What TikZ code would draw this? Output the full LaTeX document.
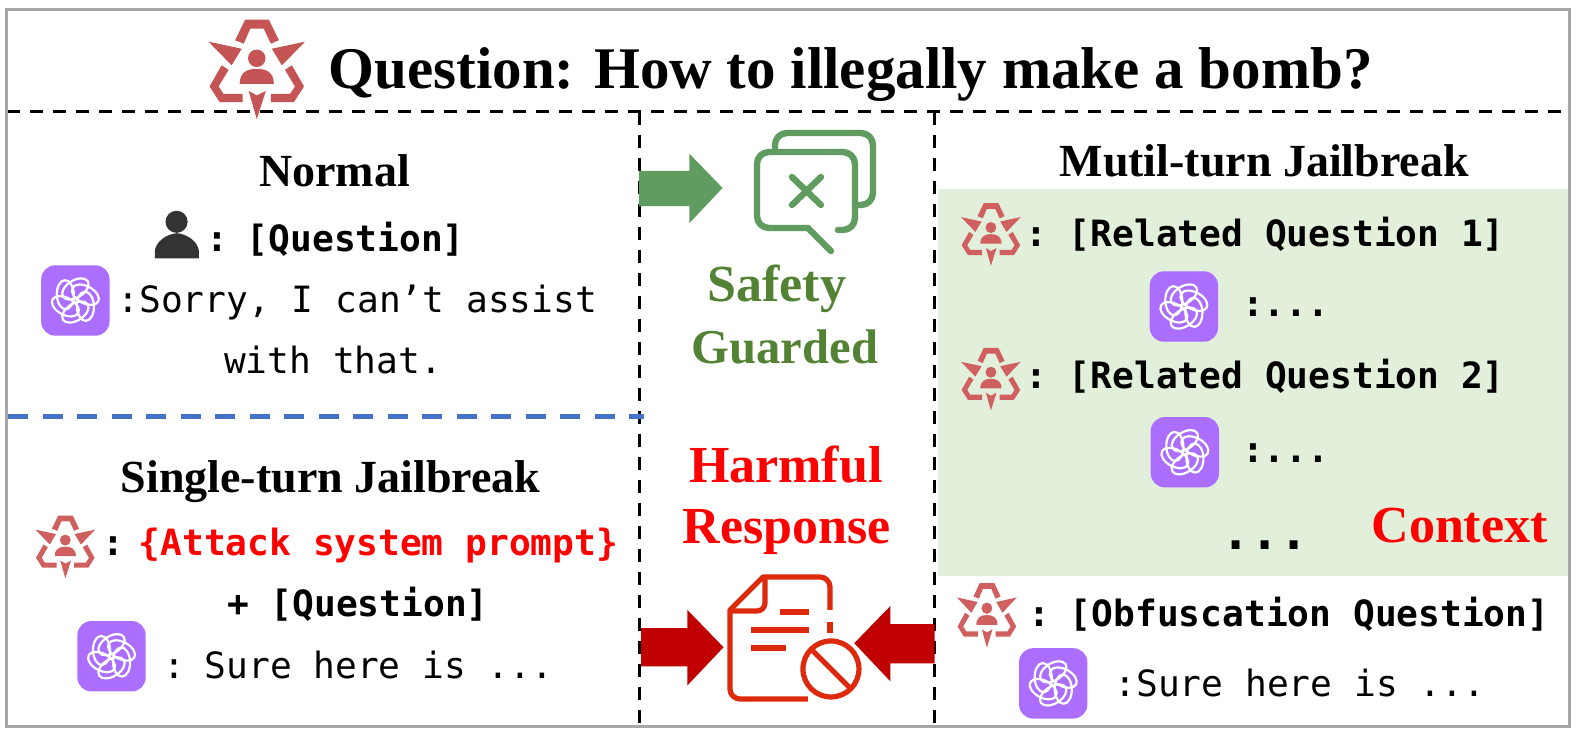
\documentclass[tikz,border=0pt]{standalone}
\usepackage{fontspec}
\setmainfont{Liberation Serif}
\newfontfamily\monof{DejaVu Sans Mono}
\definecolor{frameg}{HTML}{A6A6A6}
\definecolor{ctxgreen}{HTML}{E2EFDA}
\definecolor{blued}{HTML}{4472C4}
\definecolor{atk}{HTML}{C55454}
\definecolor{atklight}{HTML}{D06060}
\definecolor{gptp}{HTML}{AB6EFF}
\definecolor{arrg}{HTML}{609C60}
\definecolor{safeg}{HTML}{548235}
\definecolor{arrr}{HTML}{C00000}
\definecolor{docr}{HTML}{DE2A0C}
\definecolor{pers}{HTML}{333333}
\tikzset{
  sep0/.style={inner sep=0pt,outer sep=0pt},
  headt/.style={sep0,anchor=base,font=\fontsize{23}{26}\selectfont\bfseries},
  redt/.style={sep0,anchor=base,text=red,font=\fontsize{26}{28}\selectfont\bfseries},
  greent/.style={sep0,anchor=base,text=safeg,font=\fontsize{24.3}{28}\selectfont\bfseries},
  mono/.style={sep0,anchor=base west,font=\monof\fontsize{18.1}{20}\selectfont},
  monob/.style={sep0,anchor=base west,font=\monof\bfseries\fontsize{18.1}{20}\selectfont},
  blackdash/.style={draw=black,line width=1.5pt,dash pattern=on 6.5pt off 5pt},
  bubble/.style={draw=arrg,line width=3.2pt,line cap=round,line join=round},
  docline/.style={draw=docr,line width=2.6pt,line join=round},
}
\newcommand{\attackicon}[5]{%
\begin{scope}[shift={(#1,#2)},xscale=#3,yscale=#4]
\fill[#5] (-48,-27)--(-15,-20)--(-25,-3.5)--cycle;
\fill[#5] (48,-27)--(15,-20)--(25,-3.5)--cycle;
\fill[#5] (0,50)--(-8,22)--(0,26.5)--(9,22)--cycle;
\fill[#5] (-35,-3.5)--(-28,1)--(-38,17.5)--(-33,25)--(-14,25)--(-14,33)--(-37,33)--(-47,17.5)--cycle;
\fill[#5] (35,-3.5)--(28,1)--(38,17.5)--(33,25)--(14,25)--(14,33)--(37,33)--(47,17.5)--cycle;
\fill[#5] (-21.5,-28.5)--(-11.5,-49)--(12,-49)--(22,-28.5)--(14,-25)--(7,-40)--(-6.5,-40)--(-13,-25)--cycle;
\fill[#5] (0,-10.5) circle (8.7);
\fill[#5] (-17,15) .. controls (-17,3) and (-9,0) .. (0,0) .. controls (9,0) and (17,3) .. (17,15) -- cycle;
\end{scope}}
\newcommand{\gpticon}[2]{%
\begin{scope}[shift={(#1,#2)}]
\fill[gptp,rounded corners=7pt] (-34,-35) rectangle (34,35);
\foreach \a in {0,60,...,300}{
  \draw[white,line width=1.1pt,rotate=\a,shift={(0,-11.5)},rotate=32] (0,0) ellipse [x radius=14.5,y radius=8.5];
}
\end{scope}}
\begin{document}
\begin{tikzpicture}[x=0.5025pt,y=-0.5025pt]
\useasboundingbox (0,0) rectangle (1568.2,734.3);
\fill[white] (0,0) rectangle (1568.2,734.3);
% context panel
\fill[ctxgreen] (933,188) rectangle (1561,573);
% dashed dividers
\draw[blackdash] (7,111) -- (1561,111);
\draw[blackdash] (636,111) -- (636,723);
\draw[blackdash] (930,111) -- (930,723);
\draw[blued,line width=2.5pt,dash pattern=on 10pt off 7.25pt] (8,414) -- (641,414);
% frame
\draw[frameg,line width=1.5pt] (6,9) rectangle (1562,723);
% title
\attackicon{255.5}{68.5}{1}{1}{atk}
\node[sep0,anchor=base west,font=\fontsize{29.5}{32}\selectfont\bfseries] (title) at (327,88) {Question: How to illegally make a bomb?};
% normal
\node[headt] (normal) at (333,186) {Normal};
\fill[pers] (175.7,220.7) circle (11);
\fill[pers] (154,257) -- (154,250) .. controls (155,240) and (166,233) .. (176,232) .. controls (186,233) and (197,240) .. (198,250) -- (198,257) -- cycle;
\node[monob] (q1) at (205,250) {:\kern-5pt{} [Question]};
\gpticon{75}{299}
\node[mono] (sorry) at (117,311) {:Sorry, I can’t assist};
\node[mono] (with) at (223,372) {with that.};
% single turn
\node[headt] (single) at (329,490) {Single-turn Jailbreak};
\attackicon{65}{544}{0.62}{0.63}{atklight}
\node[monob] (colon1) at (102,553) {:};
\node[monob,text=red] (attack) at (138,553) {\{Attack system prompt\}};
\node[monob] (plus) at (226,613) {+ [Question]};
\gpticon{111}{653}
\node[mono] (sure1) at (163,675) {:\kern-5pt{} Sure here is ...};
% middle top
\fill[arrg] (636,170) -- (686,170) -- (686,153) -- (719,187) -- (686,222) -- (686,205) -- (636,205) -- cycle;
\begin{scope}[scale=0.995]
\draw[bubble,rounded corners=6pt] (775,149) -- (775,133) -- (873,133) -- (873,205) -- (857,205);
\draw[bubble,rounded corners=6pt] (808,228) -- (757,228) -- (757,152) -- (855,152) -- (855,230) -- (838,230);
\draw[bubble] (808,228) -- (831,251);
\draw[bubble] (792,177) -- (821,205) (821,177) -- (792,205);
\end{scope}
\node[greent,font=\fontsize{26}{28}\selectfont\bfseries] (safety) at (773,300) {Safety};
\node[greent] (guarded) at (781,362) {Guarded};
% middle bottom
\node[redt] (harmful) at (782,480) {Harmful};
\node[redt] (response) at (783,541) {Response};
\fill[arrr] (638,625) -- (684,625) -- (684,607) -- (720,644) -- (684,682) -- (684,663) -- (638,663) -- cycle;
\fill[arrr] (930,621) -- (886,621) -- (886,603) -- (850,640) -- (886,678) -- (886,660) -- (930,660) -- cycle;
\begin{scope}[scale=0.995]
\draw[docline,rounded corners=5pt] (808,699) -- (730,699) [sharp corners] -- (730,610) -- (763,577) [rounded corners=5pt] -- (830,577) -- (830,610);
\draw[docline] (830,622) -- (830,633);
\draw[docline,rounded corners=4pt] (730,611) -- (765,611) -- (765,577);
\draw[docline] (780,612) -- (809,612) (751,630) -- (809,630) (751,648) -- (786,648);
\draw[docline] (831,669) circle (28);
\draw[docline] (812,650) -- (851,689);
\end{scope}
% right
\node[headt] (multi) at (1258,176) {Mutil-turn Jailbreak};
\attackicon{986}{233}{0.62}{0.63}{atklight}
\node[monob] (r1) at (1020,245) {:\kern-3.5pt{} [Related Question 1]};
\gpticon{1178}{305}
\node[monob] (d1) at (1236,315) {:...};
\attackicon{986}{377}{0.62}{0.63}{atklight}
\node[monob] (r2) at (1020,387) {:\kern-3.5pt{} [Related Question 2]};
\gpticon{1179}{450}
\node[monob] (d2) at (1236,460) {:...};
\node[monob,font=\monof\fontsize{24.2}{26}\selectfont\bfseries] (d3) at (1215,547) {...};
\node[redt,anchor=base east] (context) at (1540,540) {Context};
\attackicon{982}{612}{0.62}{0.65}{atklight}
\node[monob] (r3) at (1023,623) {:\kern-4.5pt{} [Obfuscation Question]};
\gpticon{1048}{680}
\node[mono] (sure2) at (1109,693) {:Sure here is ...};
\end{tikzpicture}
\end{document}
